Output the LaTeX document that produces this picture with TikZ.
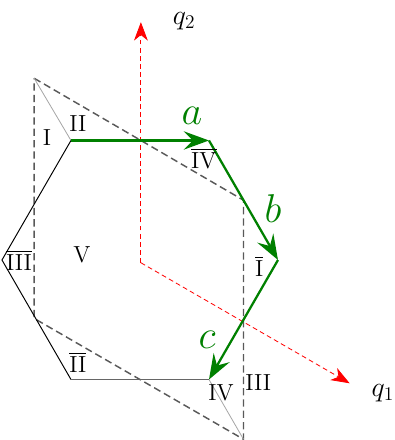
\documentclass[tikz,border=0pt]{standalone}
\usepackage{amsmath}
\usetikzlibrary{arrows.meta,calc}

\begin{document}
\begin{tikzpicture}[
  hexedge/.style={black, line width=0.6pt},
  guide/.style={gray!70, line width=0.5pt},
  frame/.style={black!65, line width=0.9pt, dash pattern=on 4.5pt off 2.5pt},
  axis/.style={red, line width=0.5pt, dash pattern=on 3pt off 2pt, -{Stealth[length=4mm, width=3mm, inset=1.2mm]}},
  flow/.style={green!50!black, line width=1.4pt, -{Stealth[length=5.5mm, width=4mm, inset=2mm]}},
  flowlabel/.style={green!50!black, font=\Huge},
  region/.style={font=\Large}
]
  \useasboundingbox (-3.043,-3.913) rectangle (5.543,5.652);

  % hexagon corners
  \coordinate (h1) at (0:3);
  \coordinate (h2) at (60:3);
  \coordinate (h3) at (120:3);
  \coordinate (h4) at (180:3);
  \coordinate (h5) at (240:3);
  \coordinate (h6) at (300:3);

  % parallelogram spanned by q1 and q2
  \coordinate (tl) at (-2.3,3.95);
  \coordinate (tr) at (2.25,1.299);
  \coordinate (br) at (2.25,-3.897);
  \coordinate (bl) at (-2.3,-1.27);

  \draw[frame] (tl) -- (tr) -- (br) -- (bl) -- cycle;
  \draw[guide] (tl) -- (h3);
  \draw[guide] (h6) -- (br);

  \draw[hexedge] (h3) -- (h4) -- (h5);
  \draw[black!60, line width=0.9pt] (h5) -- (h6);

  % axes
  \coordinate (o) at (0.02,-0.06);
  \coordinate (q2end) at (0.02,5.17);
  \coordinate (q1end) at ($(o)+(-30:5.24)$);
  \draw[axis] (o) -- (q2end);
  \draw[axis] (o) -- (q1end);
  \node[font=\LARGE, inner sep=0.5pt] (q2) at (0.96,5.2) {$q_2$};
  \node[font=\LARGE, inner sep=0.5pt] (q1) at (5.28,-2.89) {$q_1$};

  % path a, b, c
  \draw[flow] (h3) -- (h2);
  \draw[flow] (h2) -- (h1);
  \draw[flow] (h1) -- (h6);
  \node[flowlabel] (la) at (1.13,3.13) {$a$};
  \node[flowlabel] (lb) at (2.89,1.11) {$b$};
  \node[flowlabel] (lc) at (1.46,-1.74) {$c$};

  \node[region] (rI) at (-2.02,2.67) {I};
  \node[region] (rII) at (-1.35,2.96) {II};
  \node[region] (rIVb) at (1.39,2.22) {$\overline{\mathrm{IV}}$};
  \node[region] (rIb) at (2.59,-0.13) {$\overline{\mathrm{I}}$};
  \node[region] (rV) at (-1.26,0.11) {V};
  \node[region] (rIIIb) at (-2.63,0) {$\overline{\mathrm{III}}$};
  \node[region] (rIIb) at (-1.35,-2.22) {$\overline{\mathrm{II}}$};
  \node[region] (rIV) at (1.76,-2.89) {IV};
  \node[region] (rIII) at (2.57,-2.67) {III};
\end{tikzpicture}
\end{document}
